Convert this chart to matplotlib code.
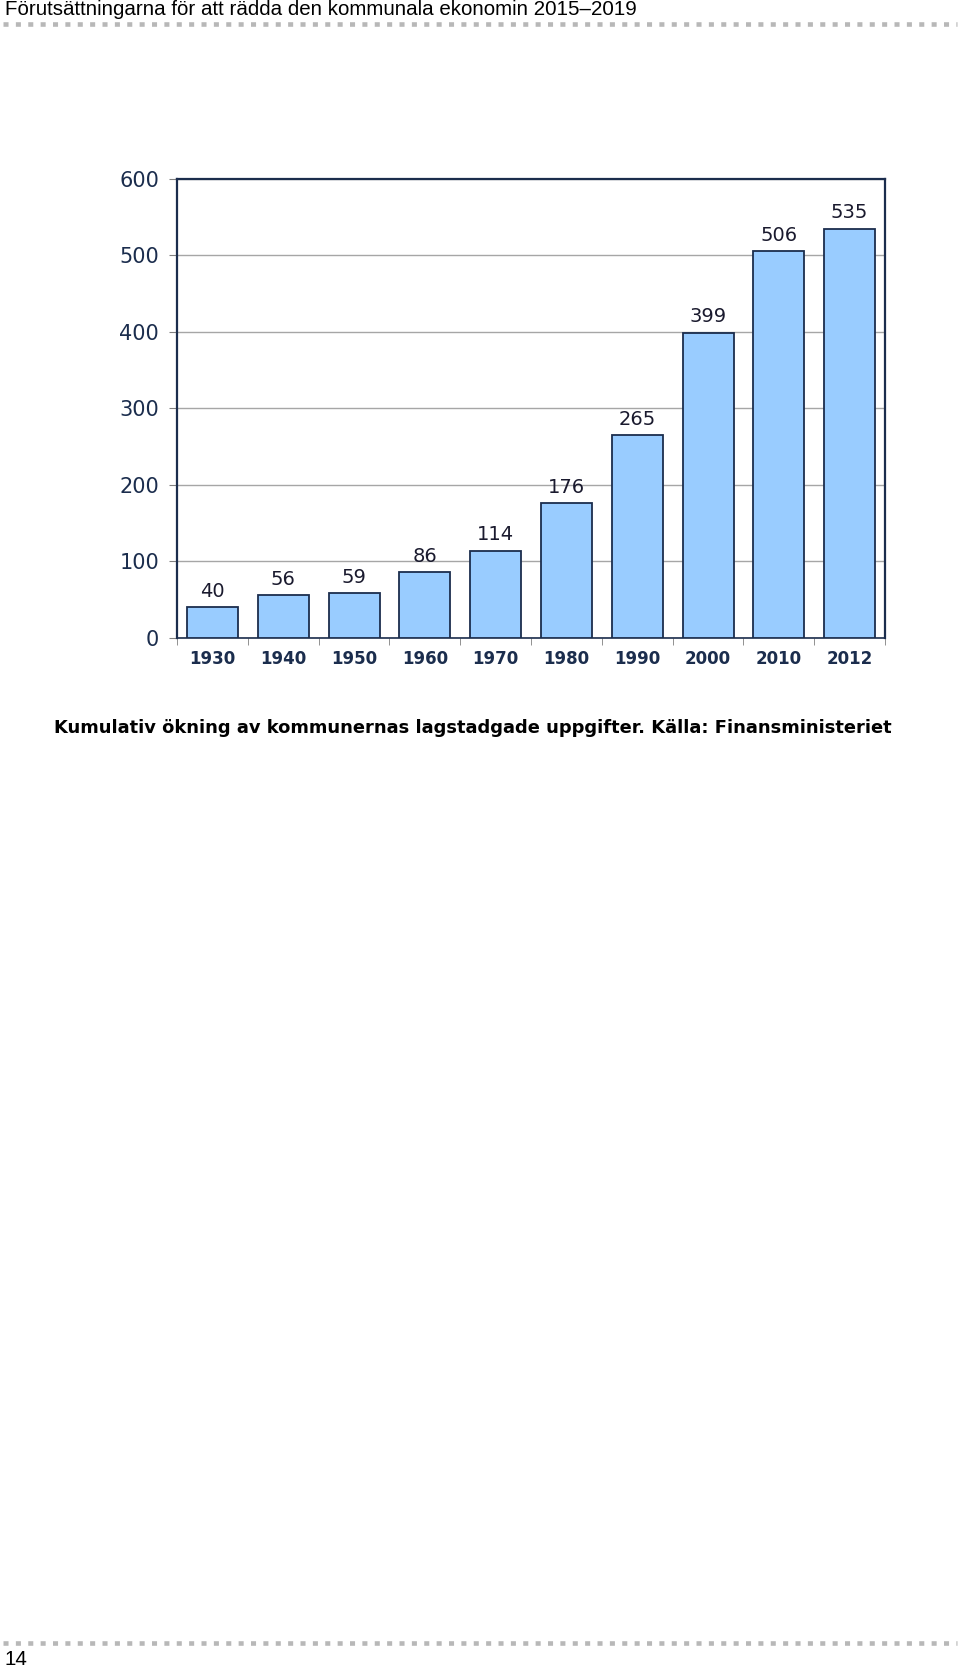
import matplotlib.pyplot as plt
import numpy as np

years = ['1930', '1940', '1950', '1960', '1970', '1980', '1990', '2000', '2010', '2012']
values = [40, 56, 59, 86, 114, 176, 265, 399, 506, 535]
yticks = [0, 100, 200, 300, 400, 500, 600]

header = 'Förutsättningarna för att rädda den kommunala ekonomin 2015\u20132019'
caption = 'Kumulativ ökning av kommunernas lagstadgade uppgifter. Källa: Finansministeriet'
page_no = '14'

navy = '#1b2d4d'
bar_color = '#99ccff'
grid_color = '#a6a6a6'

fig = plt.figure(figsize=(9.6, 16.7), dpi=100)

# header and footer
fig.text(0.005, 0.9945, header, family='Liberation Sans', fontsize=14.75, va='center', ha='left', color='black')
fig.lines.append(plt.Line2D([0.003, 0.997], [0.9855, 0.9855], transform=fig.transFigure,
                            color='#b8b8b8', lw=3.3, linestyle=(0, (1.1, 1.6))))
fig.lines.append(plt.Line2D([0.003, 0.997], [0.0162, 0.0162], transform=fig.transFigure,
                            color='#b8b8b8', lw=3.3, linestyle=(0, (1.1, 1.6))))
fig.text(0.005, 0.0060, page_no, family='Liberation Sans', fontsize=14.75, va='center', ha='left', color='black')

ax = fig.add_axes([0.1844, 0.618, 0.7375, 0.2749])
x = np.arange(len(years))
bars = ax.bar(x, values, width=0.72, color=bar_color, edgecolor=navy, linewidth=1.3, zorder=3)
for xi, v in zip(x, values):
    ax.annotate(str(v), (xi, v), xytext=(0, 4.5), textcoords='offset points',
                ha='center', va='bottom', fontsize=14, color='#1a1a2e')

ax.set_xlim(-0.5, len(years) - 0.5)
ax.set_ylim(0, 600)
ax.set_yticks(yticks)
ax.set_yticklabels([str(t) for t in yticks], fontsize=15, color=navy)
ax.tick_params(axis='y', length=6, color='#808080', pad=7)
ax.yaxis.grid(True, color=grid_color, lw=1, zorder=0)

ax.set_xticks(x)
ax.set_xticklabels(years, fontsize=12, fontweight='bold', color=navy)
ax.set_xticks(np.arange(-0.5, len(years)), minor=True)
ax.tick_params(axis='x', which='major', length=0, pad=9)
ax.tick_params(axis='x', which='minor', length=5, color='#808080', direction='out')

for s in ['top', 'right', 'left']:
    ax.spines[s].set_color(navy)
    ax.spines[s].set_linewidth(1.6)
ax.spines['bottom'].set_color(navy)
ax.spines['bottom'].set_linewidth(1.2)

fig.text(0.4927, 0.564, caption, fontsize=12.85, fontweight='bold', ha='center', va='center', color='black')

fig.savefig('out.png', dpi=100)
